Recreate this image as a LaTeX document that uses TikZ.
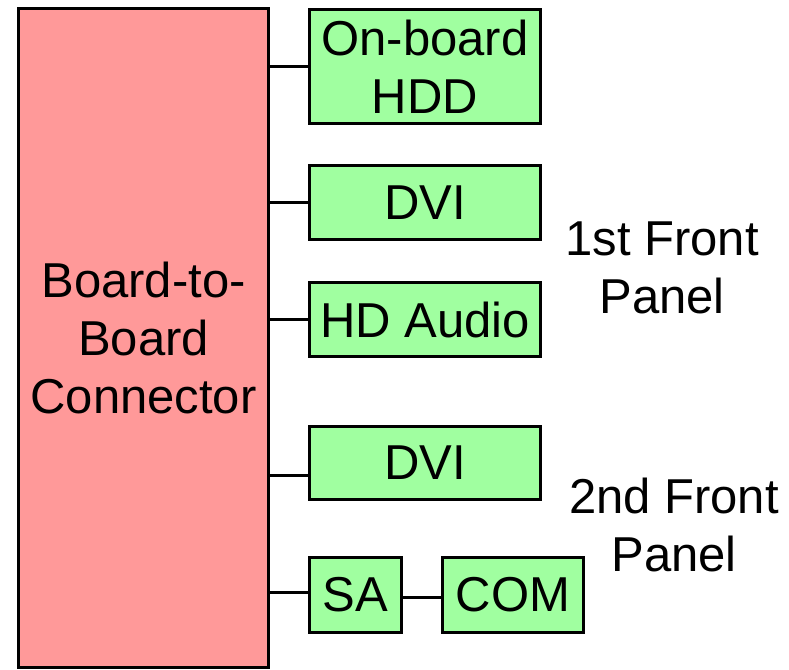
\documentclass[tikz,border=0pt]{standalone}
\usepackage{fontspec}
\setmainfont{Liberation Sans}
\usetikzlibrary{calc}
\definecolor{pinkB}{HTML}{FF9999}
\definecolor{greenB}{HTML}{A0FFA0}

\begin{document}
\begin{tikzpicture}[x=1pt,y=-1pt]
%styles
\tikzstyle{textLine}=[rectangle, text=black, align=center, inner sep=0pt, font=\fontsize{49}{58}\selectfont]
\tikzstyle{board}=[textLine, draw=black, line width=3pt, fill=pinkB]
\tikzstyle{port}=[textLine, draw=black, line width=3pt, fill=greenB]
\tikzstyle{wire}=[line width=3pt]

\useasboundingbox (0,0) rectangle (789,669);

%boxes
\node[board, minimum width=250pt, minimum height=658.5pt] (conn) at (143.5,337.75) {Board-to-\\Board\\Connector};

\node[port, minimum width=231pt, minimum height=114pt] (hdd) at (425,66.5) {On-board\\HDD};
\node[port, minimum width=231pt, minimum height=74pt] (dviA) at (425,202.5) {DVI};
\node[port, minimum width=231pt, minimum height=74pt] (hda) at (425,319.5) {HD Audio};
\node[port, minimum width=231pt, minimum height=73pt] (dviB) at (425,463) {DVI};
\node[port, minimum width=92pt, minimum height=75pt] (sa) at (355.5,595) {SA};
\node[port, minimum width=141pt, minimum height=75pt] (com) at (513,595) {COM};

%text
\node[textLine] (frontA) at (662,268) {1st Front\\Panel};
\node[textLine] (frontB) at (674,525) {2nd Front\\Panel};

%wires
\draw[wire] ($(hdd.west)+(0,-0.5)$) -- ($(hdd.west -| conn.east)+(0,-0.5)$);
\draw[wire] ($(dviA.west)+(0,-0.5)$) -- ($(dviA.west -| conn.east)+(0,-0.5)$);
\draw[wire] ($(hda.west)+(0,-0.5)$) -- ($(hda.west -| conn.east)+(0,-0.5)$);
\draw[wire] ($(dviB.west)+(0,12)$) -- ($(dviB.west -| conn.east)+(0,12)$);
\draw[wire] ($(sa.west)+(0,-3)$) -- ($(sa.west -| conn.east)+(0,-3)$);
\draw[wire] ($(sa.east)+(0,2)$) -- ($(com.west)+(0,2)$);

\end{tikzpicture}
\end{document}
